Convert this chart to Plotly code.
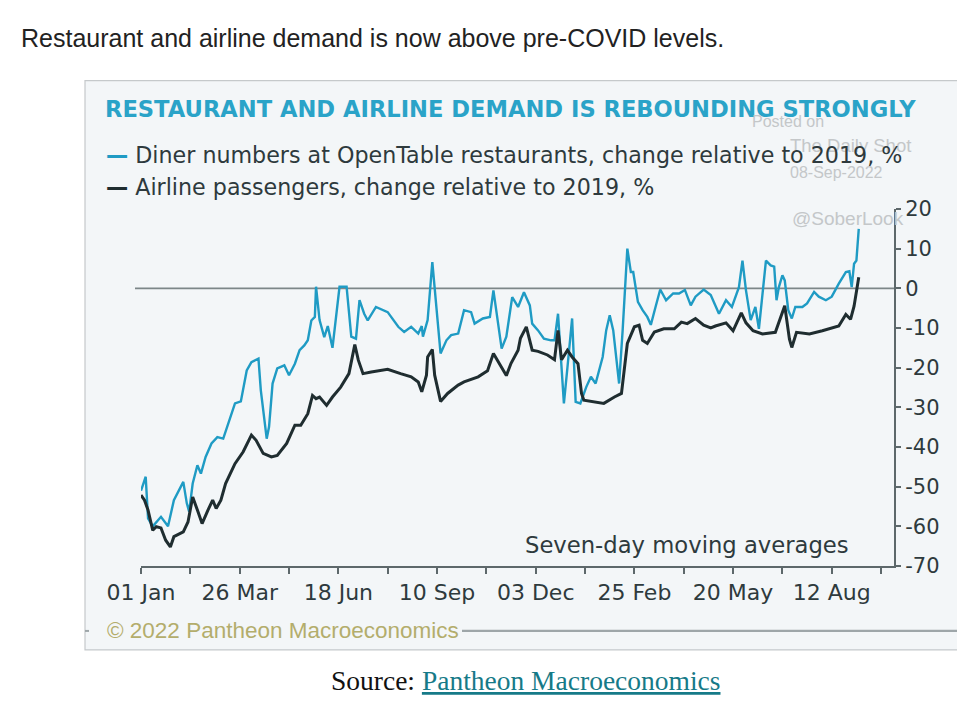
import plotly.graph_objects as go

# ---------------- data ----------------
diner_dates = [
    "2021-01-01", "2021-01-05", "2021-01-07", "2021-01-11", "2021-01-18", "2021-01-24", "2021-01-29", "2021-02-06",
    "2021-02-09", "2021-02-11", "2021-02-14", "2021-02-18", "2021-02-21", "2021-02-25", "2021-03-02", "2021-03-07",
    "2021-03-12", "2021-03-16", "2021-03-22", "2021-03-27", "2021-04-01", "2021-04-05", "2021-04-11", "2021-04-13",
    "2021-04-18", "2021-04-20", "2021-04-23", "2021-04-27", "2021-05-03", "2021-05-07", "2021-05-12", "2021-05-16",
    "2021-05-20", "2021-05-23", "2021-05-26", "2021-05-29", "2021-05-30", "2021-06-02", "2021-06-06", "2021-06-09",
    "2021-06-13", "2021-06-19", "2021-06-25", "2021-06-29", "2021-07-03", "2021-07-06", "2021-07-10", "2021-07-13",
    "2021-07-20", "2021-07-30", "2021-08-08", "2021-08-13", "2021-08-19", "2021-08-25", "2021-08-28", "2021-08-29",
    "2021-09-02", "2021-09-06", "2021-09-09", "2021-09-13", "2021-09-18", "2021-09-22", "2021-09-28", "2021-10-03",
    "2021-10-09", "2021-10-12", "2021-10-19", "2021-10-25", "2021-10-28", "2021-11-01", "2021-11-04", "2021-11-08",
    "2021-11-13", "2021-11-18", "2021-11-23", "2021-11-28", "2021-11-30", "2021-12-05", "2021-12-10", "2021-12-16",
    "2021-12-19", "2021-12-22", "2021-12-25", "2021-12-27", "2021-12-30", "2022-01-03", "2022-01-06", "2022-01-10",
    "2022-01-15", "2022-01-19", "2022-01-23", "2022-01-29", "2022-02-01", "2022-02-04", "2022-02-07", "2022-02-10",
    "2022-02-12", "2022-02-15", "2022-02-18", "2022-02-19", "2022-02-22", "2022-02-24", "2022-02-28", "2022-03-04",
    "2022-03-08", "2022-03-11", "2022-03-15", "2022-03-19", "2022-03-24", "2022-03-30", "2022-04-04", "2022-04-09",
    "2022-04-14", "2022-04-18", "2022-04-25", "2022-05-01", "2022-05-08", "2022-05-14", "2022-05-19", "2022-05-25",
    "2022-05-28", "2022-05-31", "2022-06-04", "2022-06-08", "2022-06-11", "2022-06-17", "2022-06-21", "2022-06-24",
    "2022-06-26", "2022-06-28", "2022-07-01", "2022-07-03", "2022-07-06", "2022-07-09", "2022-07-12", "2022-07-18",
    "2022-07-22", "2022-07-28", "2022-08-01", "2022-08-07", "2022-08-12", "2022-08-18", "2022-08-24", "2022-08-27",
    "2022-08-29", "2022-08-31", "2022-09-02", "2022-09-04",
]
diner_values = [
    -51, -47.5, -58, -60, -57.6, -60, -53.4, -48.8,
    -54.2, -56.3, -49.2, -44.6, -46.7, -42.5, -39.1, -37.5,
    -37.9, -34.1, -29, -28.5, -20.7, -18.6, -17.7, -25.7,
    -37.9, -34.9, -24, -20.2, -19.4, -21.9, -19, -15.6,
    -14.4, -13.1, -8.1, -7.2, 0.4, -8, -12.3, -9.5,
    -15, 0.4, 0.4, -12.2, -12.7, -3, -6.4, -8.1,
    -4.7, -6, -9.7, -11, -9.7, -11.4, -9.5, -12.2,
    -8, 6.6, -3, -16.4, -13.1, -11.8, -11.4, -5.5,
    -6, -8.9, -7.6, -7.2, -0.5, -9.7, -15.2, -12.2,
    -2.2, -4.7, -1, -4.3, -8.9, -10.6, -12.7, -13.1,
    -13.1, -6.4, -20.7, -29, -20, -7.6, -28.6, -29,
    -24.9, -22.3, -24, -17.3, -10.6, -6.8, -10.6, -19,
    -24, -10.6, 3.7, 10, 4.1, 4.1, -3.4, -5.5,
    -7.2, -9.2, -4.7, -0.3, -3, -1.3, -1.3, -0.4,
    -4.3, -2.1, -0.3, -1.7, -6.4, -3, -4.7, 0.3,
    7, -0.5, -8, -4.7, -10.2, 7, 5.8, 5.5,
    -3, 0.3, 3.3, 2, -5.5, -7.6, -4.7, -4.7,
    -3.8, -0.9, -2.1, -3, -2.1, 1.2, 4.1, 4.3,
    0.3, 6.2, 7, 15,
]

airline_dates = [
    "2021-01-01", "2021-01-04", "2021-01-07", "2021-01-11", "2021-01-14", "2021-01-18", "2021-01-22", "2021-01-26",
    "2021-01-29", "2021-02-06", "2021-02-10", "2021-02-14", "2021-02-18", "2021-02-22", "2021-02-27", "2021-03-03",
    "2021-03-06", "2021-03-10", "2021-03-14", "2021-03-22", "2021-03-29", "2021-04-05", "2021-04-09", "2021-04-15",
    "2021-04-22", "2021-04-27", "2021-05-05", "2021-05-12", "2021-05-17", "2021-05-23", "2021-05-27", "2021-05-30",
    "2021-06-02", "2021-06-08", "2021-06-13", "2021-06-20", "2021-06-27", "2021-07-02", "2021-07-05", "2021-07-09",
    "2021-07-16", "2021-07-30", "2021-08-10", "2021-08-19", "2021-08-25", "2021-08-28", "2021-09-01", "2021-09-02",
    "2021-09-06", "2021-09-08", "2021-09-13", "2021-09-19", "2021-09-28", "2021-10-03", "2021-10-15", "2021-10-23",
    "2021-10-28", "2021-11-04", "2021-11-08", "2021-11-12", "2021-11-18", "2021-11-20", "2021-11-25", "2021-11-30",
    "2021-12-05", "2021-12-13", "2021-12-19", "2021-12-22", "2021-12-25", "2021-12-30", "2022-01-03", "2022-01-08",
    "2022-01-11", "2022-01-13", "2022-01-22", "2022-01-30", "2022-02-08", "2022-02-14", "2022-02-19", "2022-02-25",
    "2022-03-01", "2022-03-04", "2022-03-08", "2022-03-14", "2022-03-22", "2022-03-31", "2022-04-06", "2022-04-11",
    "2022-04-18", "2022-04-25", "2022-05-01", "2022-05-05", "2022-05-14", "2022-05-20", "2022-05-27", "2022-05-31",
    "2022-06-06", "2022-06-14", "2022-06-25", "2022-07-03", "2022-07-07", "2022-07-09", "2022-07-13", "2022-07-24",
    "2022-08-04", "2022-08-18", "2022-08-24", "2022-08-28", "2022-08-31", "2022-09-02", "2022-09-04",
]
airline_values = [
    -52.1, -53.4, -55.9, -61, -60.1, -60.4, -63.5, -65.2,
    -62.6, -61.4, -58.9, -52.6, -55.9, -59.3, -55.9, -53.4,
    -55.5, -53.4, -49.2, -44.2, -41.2, -37, -38.3, -41.6,
    -42.5, -42.1, -39.1, -34.5, -34.5, -31.6, -27, -27.8,
    -27.4, -29.5, -27.4, -24.9, -21.5, -14.2, -18.1, -21.5,
    -21.1, -20.4, -21.5, -22.3, -23.6, -26.1, -21.9, -17.3,
    -15.4, -21.9, -28.5, -26.5, -24.4, -23.6, -22.3, -20.8,
    -16.4, -20, -22, -18.9, -15.6, -12.6, -9.7, -15.6,
    -15.9, -16.8, -18, -10.6, -18, -15.6, -17.3, -19,
    -26.5, -28.2, -28.6, -29, -27.4, -26.5, -13.9, -9.7,
    -9.3, -13.1, -13.9, -11, -10.2, -10.2, -8.5, -8.9,
    -7.6, -9.3, -10, -9.5, -8.7, -10.7, -6.2, -8.7,
    -10.7, -11.5, -11.1, -4.4, -12.8, -14.9, -11.1, -11.5,
    -10.7, -9.5, -6.6, -7.8, -4.5, -1.1, 2.8,
]

tick_dates = [
    "2021-01-01", "2021-02-12", "2021-03-26", "2021-05-07", "2021-06-18", "2021-07-30", "2021-09-10", "2021-10-22",
    "2021-12-03", "2022-01-14", "2022-02-25", "2022-04-08", "2022-05-20", "2022-07-01", "2022-08-12", "2022-09-23",
]
tick_labels = ["01 Jan", "", "26 Mar", "", "18 Jun", "", "10 Sep", "", "03 Dec", "", "25 Feb", "", "20 May", "", "12 Aug", ""]
y_ticks = [20, 10, 0, -10, -20, -30, -40, -50, -60, -70]
y_labels = ["20", "10", "0", "-10", "-20", "-30", "-40", "-50", "-60", "-70"]

# ---------------- styling / geometry ----------------
OFF = 8                      # page body margin
W, H = 965 - OFF, 707 - OFF  # figure size that fits the window
PL, PR, PT, PB = 141, 894, 208.6, 566.0   # plot area in page pixels
TEAL = "#1f9bc4"
DARK = "#1f2d30"
TXT = "#2e3a3d"


def px(x):
    return (x - PL) / (PR - PL)


def py(y):
    return (PB - y) / (PB - PT)


fig = go.Figure()
fig.add_trace(go.Scatter(x=diner_dates, y=diner_values, mode="lines",
                         line=dict(color=TEAL, width=2.4), showlegend=False))
fig.add_trace(go.Scatter(x=airline_dates, y=airline_values, mode="lines",
                         line=dict(color=DARK, width=3), showlegend=False))

shapes = [
    dict(type="rect", xref="paper", yref="paper", x0=px(85), x1=px(985), y0=py(650), y1=py(80),
         fillcolor="#f3f6f8", line=dict(color="#c5c9cb", width=1.2), layer="below"),
    dict(type="line", xref="paper", yref="y", x0=px(135), x1=1, y0=0, y1=0,
         line=dict(color="#7c8688", width=1.6), layer="below"),
    dict(type="line", xref="paper", yref="paper", x0=px(462), x1=px(985), y0=py(631), y1=py(631),
         line=dict(color="#9ea6a9", width=2.2)),
    dict(type="line", xref="paper", yref="paper", x0=px(85), x1=px(89), y0=py(631), y1=py(631),
         line=dict(color="#9ea6a9", width=2)),
]


def ann(text, x, y, size, color, family, xanchor="left", yanchor="middle"):
    return dict(text=text, x=px(x), y=py(y), xref="paper", yref="paper", showarrow=False,
                xanchor=xanchor, yanchor=yanchor, align="left", borderpad=0,
                font=dict(size=size, color=color, family=family))


WIDE = "'DejaVu Sans', sans-serif"
ARIAL = "'Liberation Sans', Arial, sans-serif"
annotations = [
    ann("Restaurant and airline demand is now above pre-COVID levels.", 20, 37, 25, "#222222", ARIAL),
    ann("<b>RESTAURANT AND AIRLINE DEMAND IS REBOUNDING STRONGLY</b>", 104, 108, 22.6, "#2aa3c8", WIDE),
    # watermark
    ann("Posted on", 751, 121, 16, "#c4c7c9", ARIAL),
    ann("The Daily Shot", 789, 145, 18.5, "#c4c7c9", ARIAL),
    ann("08-Sep-2022", 789, 172, 16, "#c4c7c9", ARIAL),
    ann("@SoberLook", 791, 218, 19, "#c4c7c9", ARIAL),
    # legend
    ann(f"<span style='color:{TEAL}'><b>—</b></span> Diner numbers at OpenTable restaurants, change relative to 2019, %",
        105, 155, 22.2, TXT, WIDE),
    ann(f"<span style='color:{DARK}'><b>—</b></span> Airline passengers, change relative to 2019, %",
        105, 187, 22.2, TXT, WIDE),
    ann("Seven-day moving averages", 524, 545, 22.7, TXT, WIDE),
    ann("© 2022 Pantheon Macroeconomics", 106, 631, 22.5, "#b3ad6c", ARIAL),
    ann("Source: <span style='color:#167a88'><u>Pantheon Macroeconomics</u></span>", 525, 681, 27.5, "#111111",
        "'Liberation Serif', 'Times New Roman', serif", xanchor="center"),
]

fig.update_layout(
    width=W, height=H,
    margin=dict(l=PL - OFF, r=W - (PR - OFF), t=PT - OFF, b=H - (PB - OFF), pad=0),
    paper_bgcolor="white", plot_bgcolor="rgba(0,0,0,0)",
    shapes=shapes, annotations=annotations,
    xaxis=dict(type="date", range=["2021-01-01", "2022-10-04"],
               tickvals=tick_dates, ticktext=tick_labels, tickmode="array",
               ticks="outside", ticklen=6, tickwidth=1.5, tickcolor="#5d686b",
               showline=True, linecolor="#5d686b", linewidth=2,
               showgrid=False, zeroline=False,
               tickfont=dict(size=22, color=TXT, family=WIDE)),
    yaxis=dict(range=[-70, 20], side="right", tickvals=y_ticks, ticktext=y_labels, tickmode="array",
               ticks="outside", ticklen=5, tickwidth=1.5, tickcolor="#5d686b",
               showline=True, linecolor="#5d686b", linewidth=2,
               showgrid=False, zeroline=False,
               tickfont=dict(size=21, color=TXT, family=WIDE)),
)

fig.write_html("out.html", config={"displayModeBar": False})
